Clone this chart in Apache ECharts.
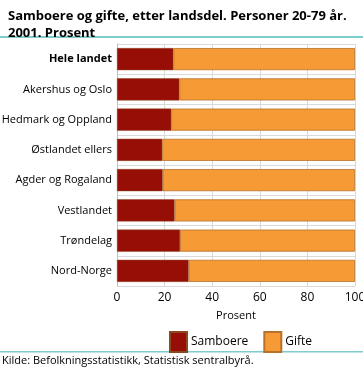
<!DOCTYPE html>
<html><head><meta charset="utf-8">
<script src="https://cdn.jsdelivr.net/npm/echarts@6/dist/echarts.min.js"></script>
<style>html,body{margin:0;padding:0;background:#fff}#c{width:363px;height:371px}</style>
</head><body><div id="c"></div>
<script>
const categories = ['Hele landet','Akershus og Oslo','Hedmark og Oppland','Østlandet ellers','Agder og Rogaland','Vestlandet','Trøndelag','Nord-Norge'];
const samboere = [23.7, 26.2, 22.8, 19.0, 19.2, 24.2, 26.5, 30.1];
const gifte = samboere.map(v => +(100 - v).toFixed(1));
const xTicks = [0, 20, 40, 60, 80, 100];
const titleText = 'Samboere og gifte, etter landsdel. Personer 20-79 år.\n2001. Prosent';
const sourceText = 'Kilde: Befolkningsstatistikk, Statistisk sentralbyrå.';
const FONT = '"Open Sans", sans-serif';

const chart = echarts.init(document.getElementById('c'));
chart.setOption({
  animation: false,
  title: { text: titleText, left: 3, top: 3, textStyle: { fontFamily: FONT, fontSize: 13, fontWeight: 'bold', color: '#000', lineHeight: 17 } },
  grid: { left: 117, right: 8, top: 44, bottom: 85, outerBoundsMode: 'none', containLabel: false },
  legend: { left: 164, top: 326, itemWidth: 17, itemHeight: 20, itemGap: 15, icon: 'rect',
    textStyle: { fontFamily: FONT, fontSize: 12, color: '#000', padding: [0, 0, 0, -1] },
    data: ['Samboere', 'Gifte'] },
  xAxis: { type: 'value', min: 0, max: 100, interval: 20,
    name: 'Prosent', nameLocation: 'middle', nameGap: 24, nameTextStyle: { fontFamily: FONT, fontSize: 11, color: '#000' },
    axisLabel: { fontFamily: FONT, fontSize: 12, color: '#000', margin: 6 },
    axisLine: { show: false }, axisTick: { show: false },
    splitLine: { show: true, lineStyle: { color: '#d9d9d9', width: 1 } } },
  yAxis: { type: 'category', data: categories, inverse: true,
    axisLabel: { fontFamily: FONT, fontSize: 11, color: '#000', margin: 5,
      formatter: (v, i) => i === 0 ? '{b|' + v + '}' : v,
      rich: { b: { fontFamily: FONT, fontSize: 11, fontWeight: 'bold', color: '#000' } } },
    axisLine: { show: true, lineStyle: { color: '#bfbfbf' } }, axisTick: { show: false },
    splitLine: { show: true, lineStyle: { color: '#d9d9d9' } } },
  series: [
    { name: 'Samboere', type: 'bar', stack: 'a', data: samboere, barWidth: '73%',
      itemStyle: { color: '#970e06', borderColor: '#8a4a20', borderWidth: 0.5 } },
    { name: 'Gifte', type: 'bar', stack: 'a', data: gifte, barWidth: '73%',
      itemStyle: { color: '#f59a35', borderColor: '#b8712a', borderWidth: 0.8 } }
  ],
  graphic: [
    { type: 'rect', shape: { x: 0, y: 36, width: 363, height: 2 }, style: { fill: '#7fcccc' } },
    { type: 'rect', shape: { x: 0, y: 351, width: 363, height: 1.5 }, style: { fill: '#7fcccc' } },
    { type: 'text', left: 2, top: 355, style: { text: sourceText, fontFamily: FONT, fontSize: 11, fill: '#000' } }
  ]
});
</script></body></html>
